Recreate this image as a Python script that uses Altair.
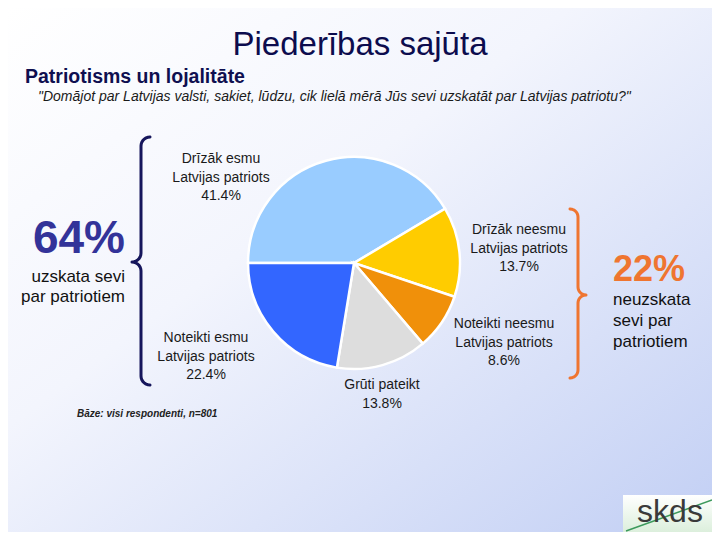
import altair as alt
import pandas as pd
import numpy as np

# ---------------- data ----------------
categories = [
    "Drīzāk esmu Latvijas patriots",
    "Drīzāk neesmu Latvijas patriots",
    "Noteikti neesmu Latvijas patriots",
    "Grūti pateikt",
    "Noteikti esmu Latvijas patriots",
]
values = [41.4, 13.7, 8.6, 13.8, 22.4]
label_lines = [
    ["Drīzāk esmu", "Latvijas patriots"],
    ["Drīzāk neesmu", "Latvijas patriots"],
    ["Noteikti neesmu", "Latvijas patriots"],
    ["Grūti pateikt"],
    ["Noteikti esmu", "Latvijas patriots"],
]
colors = ["#99CCFF", "#FFCC00", "#F0900A", "#DDDDDD", "#3366FF"]

title = "Piederības sajūta"
subtitle = "Patriotisms un lojalitāte"
question = "\"Domājot par Latvijas valsti, sakiet, lūdzu, cik lielā mērā Jūs sevi uzskatāt par Latvijas patriotu?\""
left_big = "64%"
left_text = ["uzskata sevi", "par patriotiem"]
right_big = "22%"
right_text = ["neuzskata", "sevi par", "patriotiem"]
base_text = "Bāze: visi respondenti, n=801"

# ---------------- layout (pixels, reference coords) ----------------
W, H = 704, 524
OFF = 8


def px(v):
    return v - OFF


label_x = [221, 519, 504, 382, 206]
label_y = [159, 230, 324, 385, 338]
LINE_H = 18.5
FONT = "Liberation Sans"

# background gradient
bg = alt.Chart(pd.DataFrame({"a": [0]})).mark_rect(
    color=alt.Gradient(
        gradient="linear",
        stops=[
            alt.GradientStop(color="#FFFFFF", offset=0),
            alt.GradientStop(color="#F3F5FD", offset=0.4),
            alt.GradientStop(color="#C2CFF4", offset=1),
        ],
        x1=0, y1=0, x2=1, y2=1,
    )
).encode(x=alt.value(0), x2=alt.value(W), y=alt.value(0), y2=alt.value(H))

# pie
pie_df = pd.DataFrame({"cat": categories, "value": values, "idx": list(range(len(values)))})
pie = alt.Chart(pie_df).mark_arc(radius=106, stroke="white", strokeWidth=2.5).encode(
    theta=alt.Theta("value:Q", stack=True, scale=alt.Scale(range=[4.712389, 10.995574])),
    color=alt.Color("cat:N", scale=alt.Scale(domain=categories, range=colors), legend=None),
    order=alt.Order("idx:Q"),
    x=alt.value(px(354)),
    y=alt.value(px(263)),
)

# pie labels
rows = []
for i, v in enumerate(values):
    lines = label_lines[i] + [f"{v}%"]
    for j, t in enumerate(lines):
        rows.append({"x": px(label_x[i]), "y": px(label_y[i] + j * LINE_H), "t": t})
labels = alt.Chart(pd.DataFrame(rows)).mark_text(
    font=FONT, fontSize=14, color="#1A1A1A", align="center", baseline="middle"
).encode(
    x=alt.X("x:Q", scale=None, axis=None),
    y=alt.Y("y:Q", scale=None, axis=None),
    text="t:N",
)


def text_layer(items, **kw):
    df = pd.DataFrame([{"x": px(a), "y": px(b), "t": t} for (a, b, t) in items])
    return alt.Chart(df).mark_text(font=FONT, **kw).encode(
        x=alt.X("x:Q", scale=None, axis=None),
        y=alt.Y("y:Q", scale=None, axis=None),
        text="t:N",
    )


t_title = text_layer([(360, 55, title)], fontSize=33, color="#0C0C4E", align="center", baseline="alphabetic")
t_sub = text_layer([(25, 83, subtitle)], fontSize=19.5, fontWeight="bold", color="#0F0F50", align="left", baseline="alphabetic")
t_q = text_layer([(38, 101, question)], fontSize=14, fontStyle="italic", color="#1A1A1A", align="left", baseline="alphabetic")
t_64 = text_layer([(125, 253, left_big)], fontSize=46, fontWeight="bold", color="#333399", align="right", baseline="alphabetic")
t_64b = text_layer([(125, 277 + 20 * k, s) for k, s in enumerate(left_text)], fontSize=17, color="#111111", align="right", baseline="middle")
t_22 = text_layer([(613, 281, right_big)], fontSize=36, fontWeight="bold", color="#EF7530", align="left", baseline="alphabetic")
t_22b = text_layer([(613, 300 + 21 * k, s) for k, s in enumerate(right_text)], fontSize=17, color="#111111", align="left", baseline="middle")
t_base = text_layer([(77, 414, base_text)], fontSize=10, fontWeight="bold", fontStyle="italic", color="#222222", align="left", baseline="middle")


# braces (decoration)
def brace(xl, ytop, ybot, ymid, r, d, n=8):
    pts = []
    t = np.linspace(0, np.pi / 2, n)
    cx, cy = xl - d * r, ytop + r
    pts += list(zip(cx + d * r * np.sin(t), cy - r * np.cos(t)))
    cx, cy = xl + d * r, ymid - r
    pts += list(zip(cx - d * r * np.cos(t), cy + r * np.sin(t)))
    cx, cy = xl + d * r, ymid + r
    pts += list(zip(cx - d * r * np.sin(t), cy - r * np.cos(t)))
    cx, cy = xl - d * r, ybot - r
    pts += list(zip(cx + d * r * np.cos(t), cy + r * np.sin(t)))
    return pd.DataFrame({"x": [px(p[0]) for p in pts], "y": [px(p[1]) for p in pts], "i": list(range(len(pts)))})


def brace_layer(df, color):
    return alt.Chart(df).mark_line(color=color, strokeWidth=3, strokeCap="round", strokeJoin="round").encode(
        x=alt.X("x:Q", scale=None, axis=None),
        y=alt.Y("y:Q", scale=None, axis=None),
        order=alt.Order("i:Q"),
    )


braceL = brace_layer(brace(141, 137, 385, 262, 9, -1), "#16165C")
braceR = brace_layer(brace(578, 209, 378, 295, 8, 1), "#EF7530")

# logo
logo_box = alt.Chart(pd.DataFrame({"a": [0]})).mark_rect(
    color=alt.Gradient(
        gradient="linear",
        stops=[alt.GradientStop(color="#FFFFFF", offset=0), alt.GradientStop(color="#DCEFDC", offset=1)],
        x1=0, y1=0, x2=0, y2=1,
    )
).encode(x=alt.value(px(623)), x2=alt.value(W), y=alt.value(px(495)), y2=alt.value(H))
logo_line = alt.Chart(pd.DataFrame({"a": [0]})).mark_rule(color="#3C9A5C", strokeWidth=1.5).encode(
    x=alt.value(px(626)), y=alt.value(H - 1), x2=alt.value(W), y2=alt.value(px(500))
)
logo_text = text_layer([(670, 522, "skds")], fontSize=32, color="#3A3A3A", align="center", baseline="alphabetic")

chart = alt.layer(
    bg, pie, labels, t_title, t_sub, t_q, t_64, t_64b, t_22, t_22b, t_base,
    braceL, braceR, logo_box, logo_line, logo_text,
).properties(width=W, height=H, padding=0, autosize="none").configure_view(strokeWidth=0)

chart.save("out.html", embed_options={"renderer": "svg", "actions": False})
